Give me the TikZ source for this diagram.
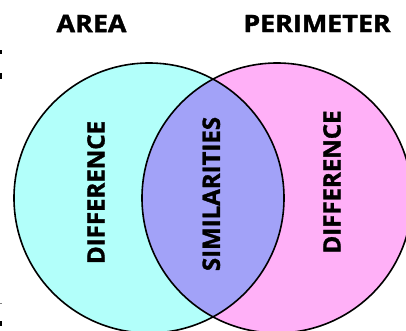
\documentclass[tikz,border=0pt]{standalone}
\usepackage{fontspec}
\usepackage{graphicx}
\setmainfont{Open Sans}[BoldFeatures={FakeBold=1.4}]
\definecolor{areacyan}{RGB}{178,255,250}
\definecolor{perimpink}{RGB}{255,176,247}
\definecolor{bothblue}{RGB}{162,162,248}

\begin{document}
\begin{tikzpicture}[x=1pt,y=1pt,
  title/.style={font=\bfseries\fontsize{24}{24}\selectfont,inner sep=0pt},
  label/.style={font=\bfseries\fontsize{24}{24}\selectfont,inner sep=0pt,rotate=90},
  ring/.style={line width=1.6pt}]
  \useasboundingbox (0,0) rectangle (406,330);
  \clip (0,0) rectangle (406,330);
  % the two sets
  \fill[areacyan] (149,132) circle (135);
  \fill[perimpink] (277,132) circle (135);
  \begin{scope}
    \clip (149,132) circle (135);
    \fill[bothblue] (277,132) circle (135);
  \end{scope}
  \draw[ring] (149,132) circle (135);
  \draw[ring] (277,132) circle (135);
  % titles
  \node[title] (area) at (91.5,306.5) {\scalebox{1.12}[1]{AREA}};
  \node[title] (perimeter) at (317,306.5) {\scalebox{1.12}[1]{PERIMETER}};
  % labels inside
  \node[label] (diffarea) at (96,137.5) {DIFFERENCE};
  \node[label] (similar) at (211.3,136) {SIMILARITIES};
  \node[label] (diffperim) at (332,148) {DIFFERENCE};
  % marks at the left edge
  \fill (0,276) rectangle (2,280);
  \fill (0,251) rectangle (2,257);
  \fill[gray] (0,26.5) rectangle (2,27.5);
  \fill (0,4) rectangle (2,9);
\end{tikzpicture}
\end{document}
